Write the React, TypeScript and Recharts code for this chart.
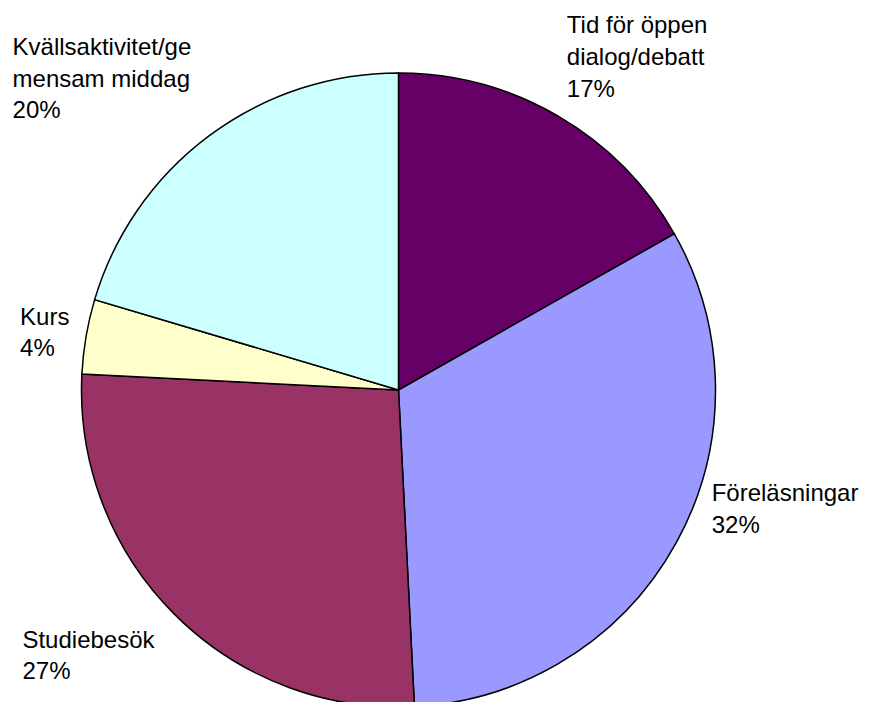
import React from 'react';
import { PieChart, Pie, Cell } from 'recharts';

const categories = [
  'Tid för öppen dialog/debatt',
  'Föreläsningar',
  'Studiebesök',
  'Kurs',
  'Kvällsaktivitet/gemensam middag',
];
const values = [16.8, 32.4, 26.6, 3.8, 20.4];
const labelLines = [
  ['Tid för öppen', 'dialog/debatt'],
  ['Föreläsningar'],
  ['Studiebesök'],
  ['Kurs'],
  ['Kvällsaktivitet/ge', 'mensam middag'],
];
const colors = ['#660066', '#9999FF', '#993366', '#FFFFCC', '#CCFFFF'];

const data = categories.map((name, i) => ({ name, value: values[i] }));

// label block offsets (left x, first baseline) relative to the point on the rim at mid-angle
const labelOffsets = [
  [8.7, -82.7],
  [35.4, -41.7],
  [-151.9, 33.6],
  [-66, -11.6],
  [-196.4, -80.8],
];

const RAD = Math.PI / 180;
const LINE_H = 31.6;

const renderLabel = (props: any) => {
  const { cx, cy, midAngle, outerRadius, percent, index } = props;
  const px = cx + outerRadius * Math.cos(-midAngle * RAD);
  const py = cy + outerRadius * Math.sin(-midAngle * RAD);
  const [dx, dy] = labelOffsets[index];
  const x = px + dx;
  const y = py + dy;
  const lines = [...labelLines[index], `${Math.round(percent * 100)}%`];
  return (
    <text
      x={x}
      y={y}
      fill="#000"
      fontSize={24}
      fontFamily="Arial, 'Liberation Sans', sans-serif"
      textAnchor="start"
    >
      {lines.map((l, i) => (
        <tspan key={i} x={x} y={y + i * LINE_H}>
          {l}
        </tspan>
      ))}
    </text>
  );
};

export default function App() {
  return (
    <div style={{ position: 'absolute', left: 0, top: 0, width: 869, height: 702, overflow: 'hidden', background: '#fff' }}>
      <PieChart width={869} height={702} margin={{ top: 0, right: 0, bottom: 0, left: 0 }}>
        <Pie
          data={data}
          dataKey="value"
          nameKey="name"
          cx={398.5}
          cy={390}
          outerRadius={317}
          startAngle={90}
          endAngle={-270}
          stroke="#000"
          strokeWidth={1.5}
          label={renderLabel}
          labelLine={false}
          isAnimationActive={false}
        >
          {data.map((d, i) => (
            <Cell key={d.name} fill={colors[i]} />
          ))}
        </Pie>
      </PieChart>
    </div>
  );
}
